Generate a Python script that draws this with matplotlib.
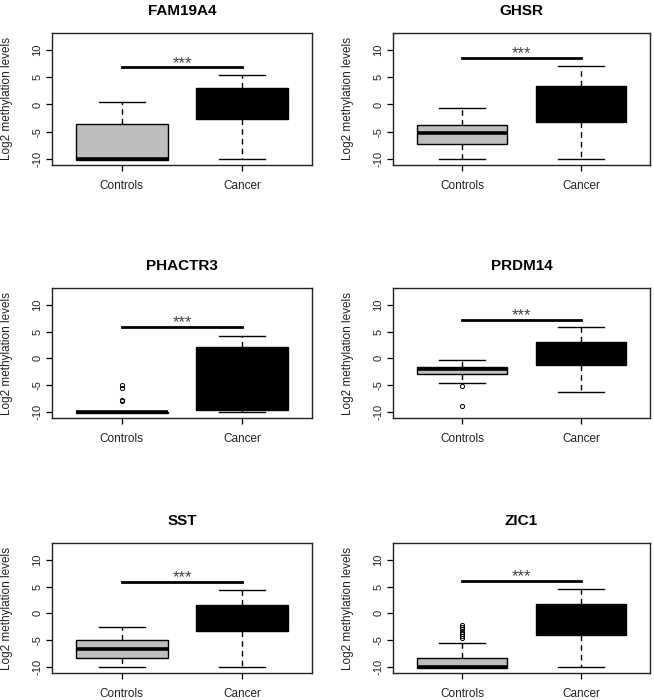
import numpy as np
import matplotlib
matplotlib.use("Agg")
import matplotlib.pyplot as plt

plt.rcParams['font.family'] = ['Liberation Sans', 'DejaVu Sans']

genes = ["FAM19A4", "GHSR", "PHACTR3", "PRDM14", "SST", "ZIC1"]
groups = ["Controls", "Cancer"]

# five-number summaries
ctrl_whislo = [-10.0, -10.0, -10.0, -4.6, -10.0, -10.0]
ctrl_q1 = [-10.1, -7.2, -10.1, -3.0, -8.3, -10.1]
ctrl_med = [-10.0, -5.2, -10.0, -2.0, -6.6, -10.0]
ctrl_q3 = [-3.6, -3.7, -9.9, -1.6, -4.9, -8.3]
ctrl_whishi = [0.4, -0.6, -10.0, -0.25, -2.5, -5.5]
ctrl_fliers = [[], [], [-4.9, -5.5, -7.7, -7.9], [-5.1, -8.9], [],
               [-2.2, -2.6, -3.0, -3.4, -3.8, -4.2, -4.5]]

canc_whislo = [-10.0, -10.0, -10.0, -6.3, -10.0, -10.0]
canc_q1 = [-2.6, -3.2, -9.7, -1.2, -3.2, -4.0]
canc_med = [0.5, 0.5, -2.0, 1.5, -1.0, -1.0]
canc_q3 = [3.1, 3.3, 2.1, 3.0, 1.5, 1.7]
canc_whishi = [5.4, 7.1, 4.1, 5.9, 4.3, 4.5]

sig_y = [6.8, 8.6, 5.85, 7.2, 5.8, 6.0]
yticks = [-10, -5, 0, 5, 10]

W, H = 654, 700
fig = plt.figure(figsize=(W / 100, H / 100), dpi=100)

col_x = [(52, 312), (393, 650)]
row_y = [(33, 165), (288, 418), (543, 673)]

for i, gene in enumerate(genes):
    r, c = divmod(i, 2)
    x0, x1 = col_x[c]
    y0, y1 = row_y[r]
    ax = fig.add_axes([x0 / W, 1 - y1 / H, (x1 - x0) / W, (y1 - y0) / H])

    stats = [
        dict(whislo=ctrl_whislo[i], q1=ctrl_q1[i], med=ctrl_med[i], q3=ctrl_q3[i],
             whishi=ctrl_whishi[i], fliers=ctrl_fliers[i]),
        dict(whislo=canc_whislo[i], q1=canc_q1[i], med=canc_med[i], q3=canc_q3[i],
             whishi=canc_whishi[i], fliers=[]),
    ]
    bp = ax.bxp(stats, positions=[1, 2], widths=0.76, patch_artist=True,
                boxprops=dict(linewidth=1.0, edgecolor="black"),
                medianprops=dict(color="black", linewidth=2.6, solid_capstyle="butt"),
                whiskerprops=dict(color="black", linewidth=1.0, linestyle=(0, (4, 3))),
                capprops=dict(color="black", linewidth=1.0),
                capwidths=0.38,
                flierprops=dict(marker="o", markersize=3, markerfacecolor="none",
                                markeredgecolor="black", markeredgewidth=0.7))
    bp["boxes"][0].set_facecolor("#bebebe")
    bp["boxes"][1].set_facecolor("black")

    ax.plot([1, 2], [sig_y[i], sig_y[i]], color="black", linewidth=2.0)
    ax.text(1.5, sig_y[i] - 0.6, "***", ha="center", va="bottom", fontsize=12,
            color="#444444")

    ax.set_xlim(0.42, 2.58)
    ax.set_ylim(-11.1, 13.1)
    ax.set_xticks([1, 2])
    ax.set_xticklabels(groups, fontsize=8.5, color="#222222")
    ax.set_yticks(yticks)
    ax.set_yticklabels([str(v) for v in yticks], fontsize=8, color="#222222",
                       rotation=90, va="center")
    ax.tick_params(axis="both", direction="out", length=4, width=0.9, pad=3)
    ax.tick_params(axis="x", pad=7)
    ax.set_ylabel("Log2 methylation levels", fontsize=8.5, color="#222222")
    ax.yaxis.set_label_coords(-0.15, 0.5)
    ax.set_title(gene, fontsize=11, fontweight="bold", pad=13)
    for sp in ax.spines.values():
        sp.set_linewidth(1.0)
        sp.set_color("#222222")

fig.savefig("out.png", dpi=100)
